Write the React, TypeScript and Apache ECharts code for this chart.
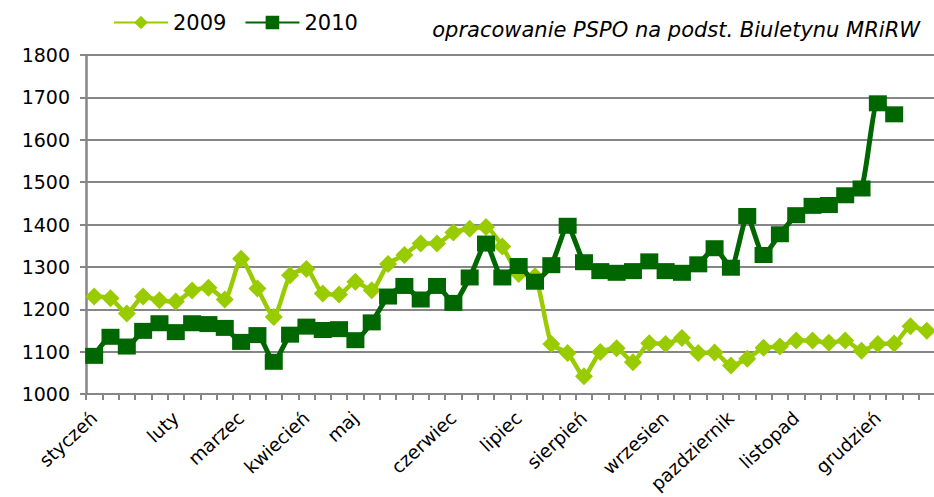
import React, { useEffect, useRef } from "react";
import * as echarts from "echarts";

const monthLabels: [number, string][] = [
  [0, "styczeń"], [5, "luty"], [9, "marzec"], [13, "kwiecień"], [16, "maj"],
  [22, "czerwiec"], [26, "lipiec"], [30, "sierpień"], [35, "wrzesien"],
  [39, "pazdziernik"], [43, "listopad"], [48, "grudzień"],
];
const weekCount = 52;

const values2009: number[] = [
  1230, 1226, 1190, 1230, 1221, 1218, 1244, 1251, 1223, 1319, 1249, 1182, 1280,
  1295, 1237, 1235, 1265, 1245, 1307, 1328, 1355, 1355, 1381, 1390, 1394, 1348,
  1283, 1278, 1118, 1097, 1042, 1099, 1108, 1075, 1120, 1118, 1132, 1097, 1098,
  1067, 1083, 1109, 1112, 1126, 1126, 1121, 1126, 1102, 1118, 1119, 1160, 1149,
];
const values2010: (number | null)[] = [
  1090, 1135, 1112, 1149, 1167, 1146, 1167, 1165, 1156, 1123, 1139, 1076, 1140,
  1159, 1151, 1153, 1127, 1169, 1230, 1255, 1223, 1255, 1215, 1275, 1355, 1275,
  1302, 1265, 1304, 1397, 1311, 1290, 1286, 1290, 1313, 1290, 1286, 1306, 1344,
  1298, 1420, 1328, 1377, 1422, 1444, 1446, 1469, 1485, 1686, 1660, null, null,
];
const yTicks = { min: 1000, max: 1800, interval: 100 };
const sourceNote = "opracowanie PSPO na podst. Biuletynu MRiRW";

const FONT = "'DejaVu Sans', sans-serif";

export default function App() {
  const ref = useRef<HTMLDivElement>(null);
  useEffect(() => {
    document.body.style.margin = "0";
    if (!ref.current) return;
    const chart = echarts.init(ref.current, undefined, { renderer: "svg" });
    const categories: string[] = Array.from({ length: weekCount }, () => "");
    monthLabels.forEach(([i, n]) => (categories[i] = n));
    chart.setOption({
      animation: false,
      backgroundColor: "#ffffff",
      grid: {
        left: 86,
        right: -1,
        top: 55,
        bottom: 103,
        containLabel: false,
        outerBoundsMode: "none",
      },
      legend: {
        left: 108,
        top: 7,
        itemWidth: 54,
        itemHeight: 17,
        itemGap: 18,
        textStyle: { fontFamily: FONT, fontSize: 21, color: "#000" },
        data: ["2009", "2010"],
      },
      graphic: [
        {
          type: "text",
          right: 14,
          top: 19,
          style: {
            text: sourceNote,
            fontFamily: FONT,
            fontStyle: "italic",
            fontSize: 21,
            fill: "#000",
          },
        },
      ],
      xAxis: {
        type: "category",
        data: categories,
        boundaryGap: true,
        axisLine: { lineStyle: { color: "#868686", width: 2 } },
        axisTick: { show: true, interval: 0, length: 6, lineStyle: { color: "#868686", width: 2 } },
        axisLabel: {
          interval: 0,
          rotate: 43,
          margin: 21,
          fontFamily: FONT,
          fontSize: 18.5,
          color: "#000",
          hideOverlap: false,
        },
      },
      yAxis: {
        type: "value",
        min: yTicks.min,
        max: yTicks.max,
        interval: yTicks.interval,
        axisLine: { show: true, lineStyle: { color: "#868686", width: 2.5 } },
        axisTick: { show: true, length: 6, lineStyle: { color: "#868686", width: 2 } },
        axisLabel: {
          margin: 16,
          fontFamily: FONT,
          fontSize: 19,
          color: "#000",
          formatter: (v: number) => String(v),
        },
        splitLine: { lineStyle: { color: "#868686", width: 2 } },
      },
      series: [
        {
          name: "2009",
          type: "line",
          data: values2009,
          smooth: 0.2,
          symbol: "diamond",
          symbolSize: [18, 18],
          lineStyle: { color: "#99cc00", width: 4.5 },
          itemStyle: { color: "#99cc00" },
          z: 2,
        },
        {
          name: "2010",
          type: "line",
          data: values2010,
          smooth: 0.2,
          symbol: "rect",
          symbolSize: [18, 16],
          lineStyle: { color: "#006600", width: 5 },
          itemStyle: { color: "#006600" },
          z: 3,
        },
      ],
    });
    return () => chart.dispose();
  }, []);
  return <div ref={ref} style={{ width: 934, height: 497 }} />;
}
